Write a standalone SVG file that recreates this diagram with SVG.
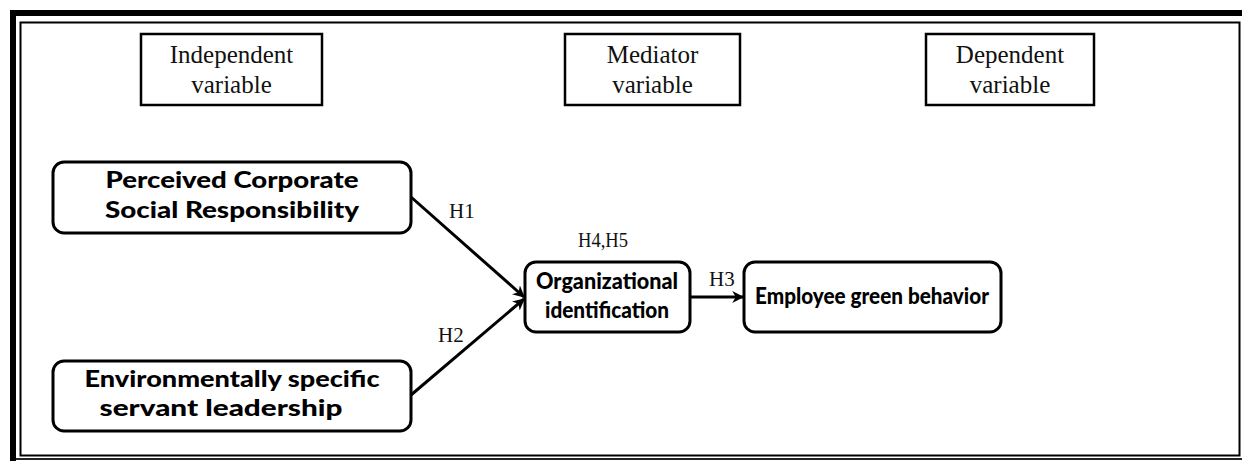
<svg xmlns="http://www.w3.org/2000/svg" width="1242" height="461" viewBox="0 0 1242 461">
<defs>
<style>
.hdr{fill:#fff;stroke:#000;stroke-width:2.5}
.hdrt{font-family:"Liberation Serif",serif;font-size:25px;fill:#111;text-anchor:middle}
.node{fill:#fff;stroke:#000;stroke-width:3}
.nt{font-family:"Lato","Liberation Sans",sans-serif;font-weight:900;font-size:23px;fill:#000;text-anchor:middle}
.lbl{font-family:"Liberation Serif",serif;font-size:21px;fill:#111}
.con{stroke:#000;stroke-width:3;fill:none}
</style>
<marker id="ah" viewBox="0 0 10 10" refX="9" refY="5" markerWidth="4" markerHeight="4" orient="auto" markerUnits="strokeWidth">
<path d="M0,0 L10,5 L0,10 L3,5 Z" fill="#000"/>
</marker>
</defs>
<rect width="1242" height="461" fill="#fff"/>
<g id="frame">
<path d="M13,461 L13,13 L1242,13" fill="none" stroke="#000" stroke-width="6"/>
<rect x="20.5" y="22.5" width="1219" height="433" fill="none" stroke="#000" stroke-width="2"/>
<line x1="16" y1="459" x2="1242" y2="459" stroke="#222" stroke-width="2"/>
</g>
<g id="hdr-independent">
<rect class="hdr" x="141" y="34" width="181" height="71"/>
<text class="hdrt" x="231.5" y="63">Independent</text>
<text class="hdrt" x="231.5" y="93">variable</text>
</g>
<g id="hdr-mediator">
<rect class="hdr" x="565" y="34" width="175" height="71"/>
<text class="hdrt" x="652.5" y="63">Mediator</text>
<text class="hdrt" x="652.5" y="93">variable</text>
</g>
<g id="hdr-dependent">
<rect class="hdr" x="926" y="34" width="168" height="71"/>
<text class="hdrt" x="1010" y="63">Dependent</text>
<text class="hdrt" x="1010" y="93">variable</text>
</g>
<g id="connectors">
<line class="con" x1="411" y1="197" x2="524" y2="297" marker-end="url(#ah)"/>
<line class="con" x1="411" y1="395" x2="524" y2="299" marker-end="url(#ah)"/>
<line class="con" x1="690" y1="297" x2="743" y2="297" marker-end="url(#ah)"/>
<text class="lbl" x="449" y="218">H1</text>
<text class="lbl" x="438" y="342">H2</text>
<text class="lbl" x="709" y="286">H3</text>
<text class="lbl" x="578" y="247" textLength="50" lengthAdjust="spacingAndGlyphs">H4,H5</text>
</g>
<g id="node-pcsr">
<rect class="node" x="53" y="162" width="358" height="71" rx="11"/>
<text class="nt" x="232" y="188" textLength="253" lengthAdjust="spacingAndGlyphs">Perceived Corporate</text>
<text class="nt" x="232" y="218" textLength="254" lengthAdjust="spacingAndGlyphs">Social Responsibility</text>
</g>
<g id="node-essl">
<rect class="node" x="53" y="361" width="358" height="70" rx="11"/>
<text class="nt" x="232" y="387" textLength="295" lengthAdjust="spacingAndGlyphs">Environmentally specific</text>
<text class="nt" x="221" y="416" textLength="243" lengthAdjust="spacingAndGlyphs">servant leadership</text>
</g>
<g id="node-oi">
<rect class="node" x="525" y="262" width="165" height="70" rx="11"/>
<text class="nt" x="607" y="289" textLength="142" lengthAdjust="spacingAndGlyphs">Organizational</text>
<text class="nt" x="607" y="318" textLength="124" lengthAdjust="spacingAndGlyphs">identification</text>
</g>
<g id="node-egb">
<rect class="node" x="744" y="262" width="257" height="70" rx="11"/>
<text class="nt" x="872" y="304" textLength="234" lengthAdjust="spacingAndGlyphs">Employee green behavior</text>
</g>
</svg>
